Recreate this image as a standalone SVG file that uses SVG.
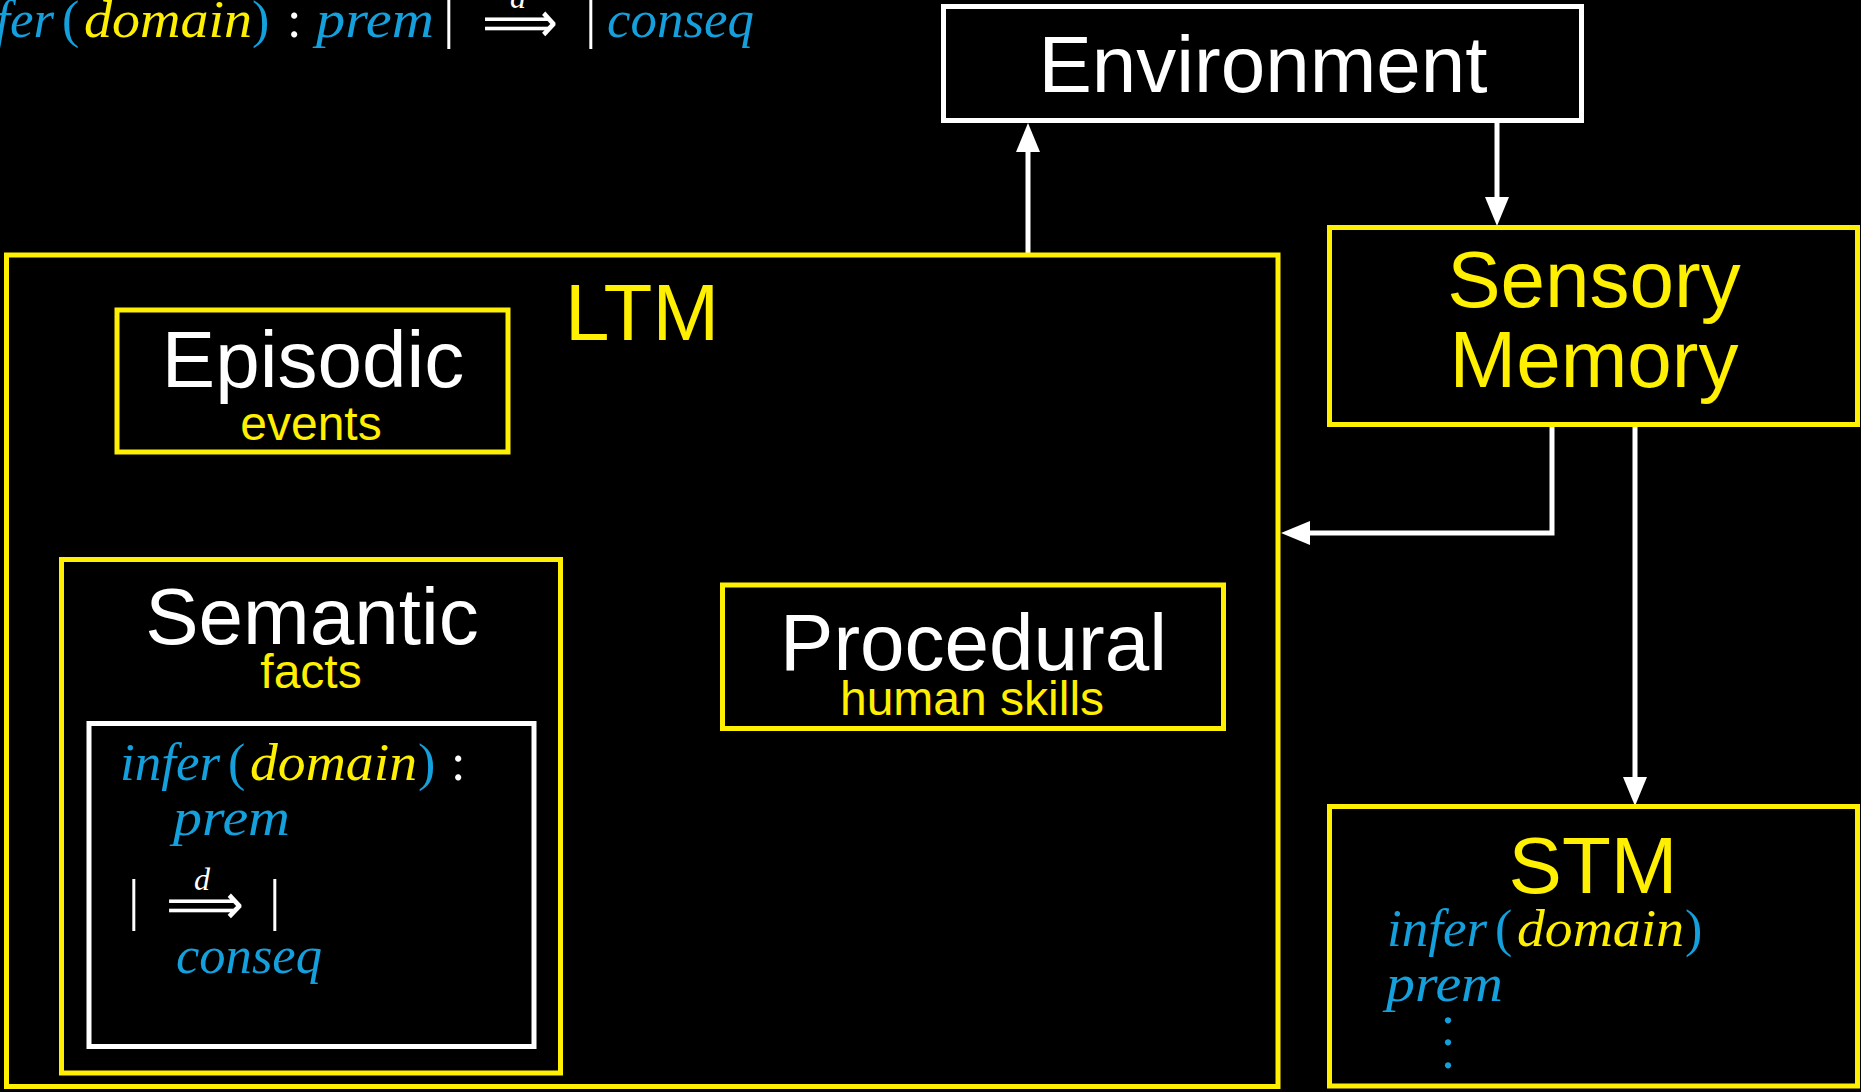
<svg xmlns="http://www.w3.org/2000/svg" width="1861" height="1092" viewBox="0 0 1861 1092">
  <defs>
    <style>
      .box-y { fill: #000; stroke: #ffef00; stroke-width: 5; }
      .box-w { fill: #000; stroke: #ffffff; stroke-width: 5; }
      .title { font-family: "Liberation Sans", Arial, Helvetica, sans-serif; font-size: 80px; text-anchor: middle; }
      .sub { font-family: "Liberation Sans", Arial, Helvetica, sans-serif; font-size: 48px; text-anchor: middle; fill: #ffef00; }
      .white { fill: #ffffff; }
      .yellow { fill: #ffef00; }
      .cyan { fill: #14a0dc; }
      .mi { font-family: "Liberation Serif", "Times New Roman", serif; font-style: italic; font-size: 52px; }
      .mr { font-family: "Liberation Serif", "Times New Roman", serif; font-size: 52px; }
      .bar { font-family: "Liberation Serif", "Times New Roman", serif; font-size: 58px; fill: #ffffff; }
      .md { font-family: "Liberation Serif", "Times New Roman", serif; font-style: italic; font-size: 32px; fill: #ffffff; }
      .arr { font-family: "DejaVu Sans", sans-serif; font-size: 58px; fill: #ffffff; }
      .conn { fill: none; stroke: #ffffff; stroke-width: 5; stroke-linejoin: miter; marker-end: url(#ah); }
    </style>
    <marker id="ah" markerUnits="userSpaceOnUse" markerWidth="29" markerHeight="24" viewBox="0 0 29 24" refX="9" refY="12" orient="auto">
      <path d="M0,0 L29,12 L0,24 z" fill="#ffffff"/>
    </marker>
  </defs>

  <rect x="0" y="0" width="1861" height="1092" fill="#000"/>

  <!-- inference rule written along the top edge -->
  <g id="top-formula">
    <text class="mi cyan" x="-46" y="37" textLength="100" lengthAdjust="spacingAndGlyphs">infer</text>
    <text class="mr cyan" x="62" y="37">(</text>
    <text class="mi yellow" x="84" y="37" textLength="168" lengthAdjust="spacingAndGlyphs">domain</text>
    <text class="mr cyan" x="252" y="37">)</text>
    <text class="mr white" x="287" y="37">:</text>
    <text class="mi cyan" x="316" y="37" textLength="118" lengthAdjust="spacingAndGlyphs">prem</text>
    <text class="bar" x="443" y="37">|</text>
    <text class="md" x="510" y="8">d</text>
    <text class="arr" x="482" y="42" textLength="76" lengthAdjust="spacingAndGlyphs">⟹</text>
    <text class="bar" x="585" y="37">|</text>
    <text class="mi cyan" x="607" y="37" textLength="147" lengthAdjust="spacingAndGlyphs">conseq</text>
  </g>

  <!-- connectors -->
  <g id="connectors">
    <path class="conn" d="M1028,253 V143"/>
    <path class="conn" d="M1497,121 V206"/>
    <path class="conn" d="M1552,426 V533 H1301"/>
    <path class="conn" d="M1635,426 V786"/>
  </g>

  <g id="environment">
    <rect class="box-w" x="943.5" y="6.5" width="638" height="114"/>
    <text class="title white" x="1263" y="92">Environment</text>
  </g>

  <g id="sensory-memory">
    <rect class="box-y" x="1329.5" y="227.5" width="528" height="197"/>
    <text class="title yellow" x="1594" y="307">Sensory</text>
    <text class="title yellow" x="1594" y="387">Memory</text>
  </g>

  <g id="ltm">
    <rect class="box-y" x="6.5" y="255" width="1271.5" height="831.5"/>
    <text class="title yellow" x="642" y="340">LTM</text>
  </g>

  <g id="episodic">
    <rect class="box-y" x="117" y="310" width="391" height="142"/>
    <text class="title white" x="313" y="387">Episodic</text>
    <text class="sub" x="311" y="440">events</text>
  </g>

  <g id="semantic">
    <rect class="box-y" x="61.5" y="559.5" width="499" height="513.5"/>
    <text class="title white" x="312" y="644">Semantic</text>
    <text class="sub" x="311" y="688">facts</text>
    <g id="semantic-rule">
      <rect class="box-w" x="89" y="723.5" width="445" height="323"/>
      <text class="mi cyan" x="120" y="780" textLength="100" lengthAdjust="spacingAndGlyphs">infer</text>
      <text class="mr cyan" x="228" y="780">(</text>
      <text class="mi yellow" x="250" y="780" textLength="167" lengthAdjust="spacingAndGlyphs">domain</text>
      <text class="mr cyan" x="418" y="780">)</text>
      <text class="mr white" x="451" y="780">:</text>
      <text class="mi cyan" x="173" y="835" textLength="117" lengthAdjust="spacingAndGlyphs">prem</text>
      <text class="bar" x="128" y="919">|</text>
      <text class="md" x="194" y="890">d</text>
      <text class="arr" x="166" y="924" textLength="78" lengthAdjust="spacingAndGlyphs">⟹</text>
      <text class="bar" x="269" y="919">|</text>
      <text class="mi cyan" x="176" y="973" textLength="146" lengthAdjust="spacingAndGlyphs">conseq</text>
    </g>
  </g>

  <g id="procedural">
    <rect class="box-y" x="722.5" y="585" width="501" height="143.5"/>
    <text class="title white" x="973.5" y="670">Procedural</text>
    <text class="sub" x="972" y="715">human skills</text>
  </g>

  <g id="stm">
    <rect class="box-y" x="1329.5" y="806.5" width="528" height="279.5"/>
    <text class="title yellow" x="1593" y="893">STM</text>
    <text class="mi cyan" x="1387" y="946" textLength="100" lengthAdjust="spacingAndGlyphs">infer</text>
    <text class="mr cyan" x="1495" y="946">(</text>
    <text class="mi yellow" x="1517" y="946" textLength="167" lengthAdjust="spacingAndGlyphs">domain</text>
    <text class="mr cyan" x="1685" y="946">)</text>
    <text class="mi cyan" x="1386" y="1001" textLength="117" lengthAdjust="spacingAndGlyphs">prem</text>
    <text class="mr cyan" x="1441.5"><tspan x="1441.5" y="1023">.</tspan><tspan x="1441.5" y="1045">.</tspan><tspan x="1441.5" y="1068">.</tspan></text>
  </g>
</svg>
